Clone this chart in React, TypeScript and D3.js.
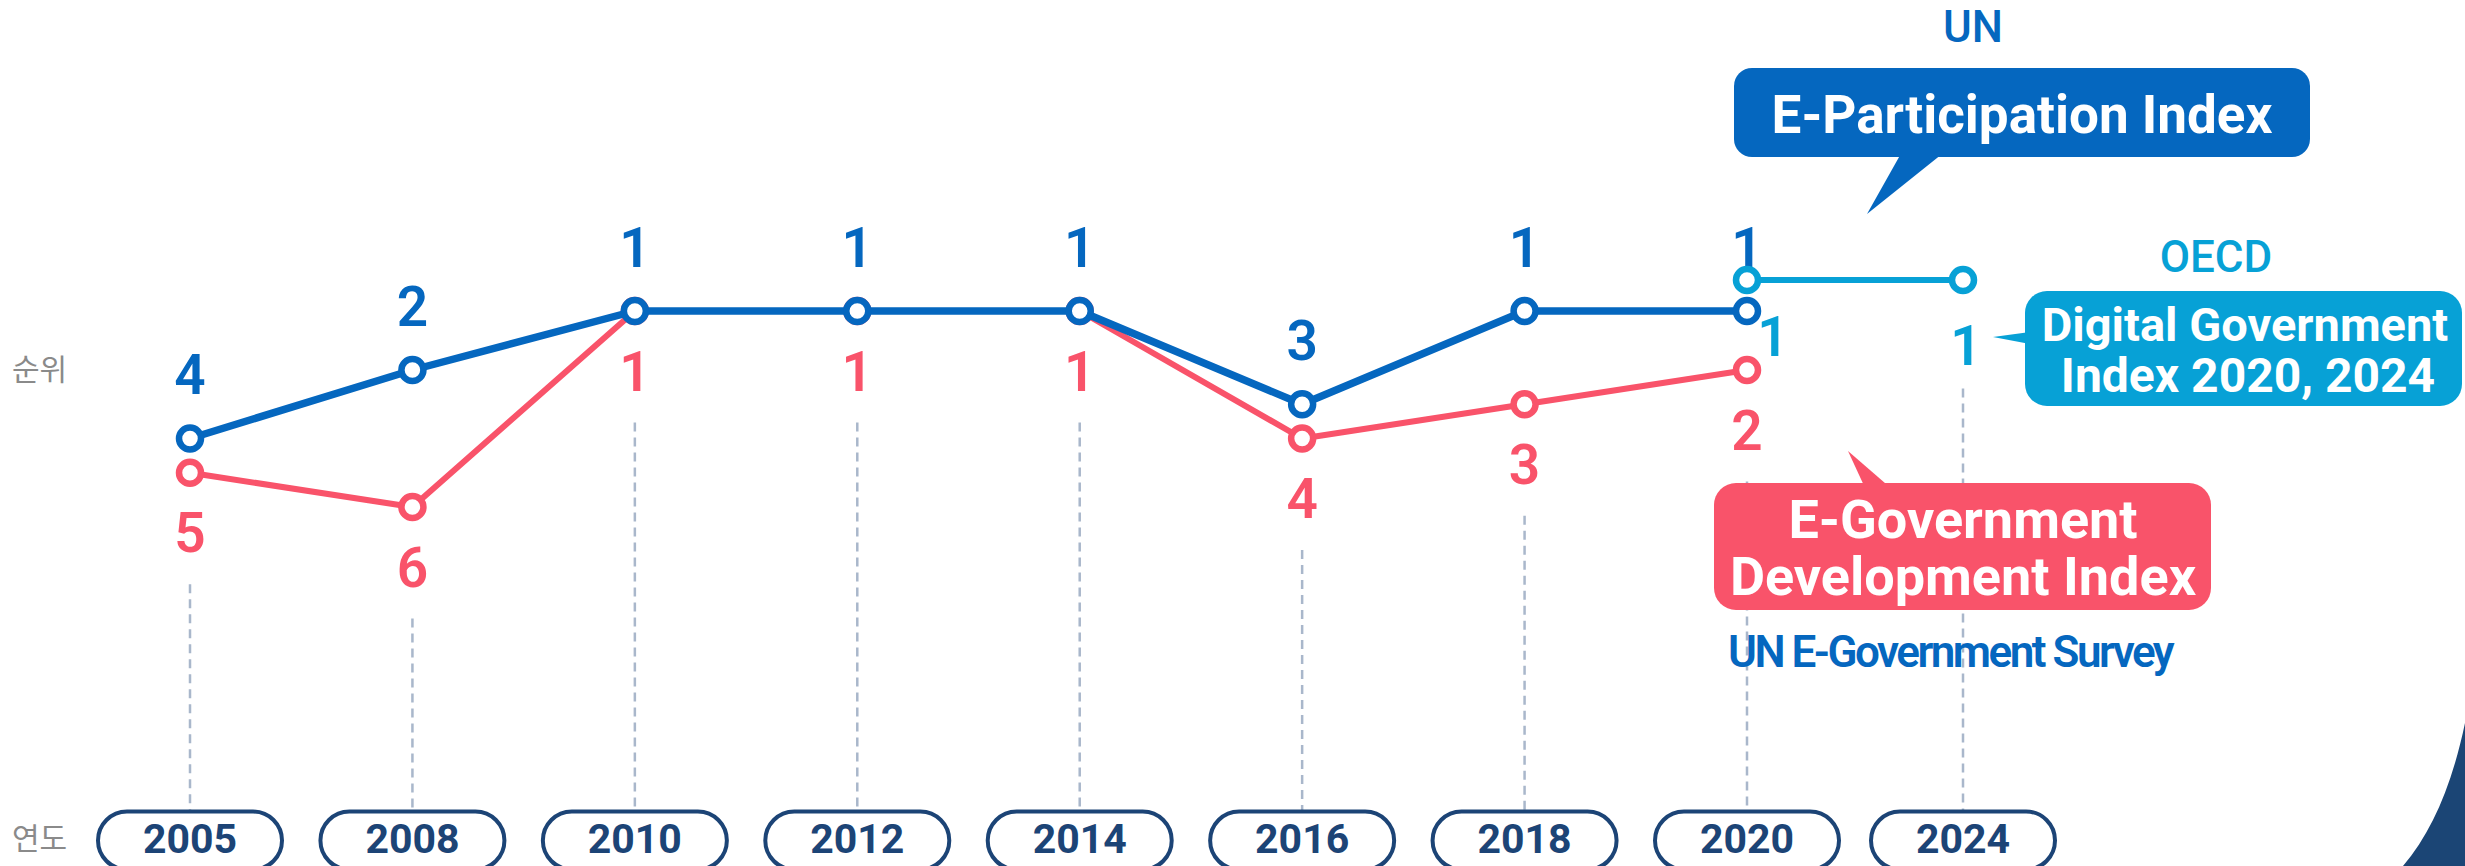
import React from 'react';
import * as d3 from 'd3';

// ---- data ----
const years = ['2005', '2008', '2010', '2012', '2014', '2016', '2018', '2020', '2024'];
const unYears = ['2005', '2008', '2010', '2012', '2014', '2016', '2018', '2020'];
const eParticipationRank = [4, 2, 1, 1, 1, 3, 1, 1];
const egdiRank = [5, 6, 1, 1, 1, 4, 3, 2];
const oecdYears = ['2020', '2024'];
const oecdDgiRank = [1, 1];

const W = 2465;
const H = 866;

const C = {
  blue: '#0567bf',
  red: '#f9536a',
  light: '#07a1d6',
  navy: '#1c4476',
  dash: '#a9b7cb',
  grey: '#8a8a8a',
};

const FONT = 'Roboto, "Noto Sans", sans-serif';
const KFONT = '"Noto Sans CJK KR", "Noto Sans", sans-serif';

export default function App() {
  const x = d3.scaleLinear().domain([0, 7, 8]).range([190, 1747, 1963]);
  const xOf = (yr: string) => x(years.indexOf(yr));
  const y = d3.scaleLinear().domain([1, 2, 6]).range([311, 370, 507]);
  const oecdOffset = -31;
  const yO = (r: number) => y(r) + oecdOffset;

  const line = d3
    .line<[number, number]>()
    .x((d) => d[0])
    .y((d) => d[1]);

  const bluePts: [number, number][] = unYears.map((yr, i) => [xOf(yr), y(eParticipationRank[i])]);
  const redPts: [number, number][] = unYears.map((yr, i) => [xOf(yr), y(egdiRank[i])]);
  const oecdPts: [number, number][] = oecdYears.map((yr, i) => [xOf(yr), yO(oecdDgiRank[i])]);

  const labelFs = 55;
  const capHalf = 19.5;
  const blueLabelDy = -64 + capHalf;
  const redLabelDy = 60 + capHalf;

  const pillTop = 811.5;

  // dashed guide start per year: just below the lowest label
  const dashStart = (yr: string) => {
    const i = unYears.indexOf(yr);
    if (i >= 0) return y(egdiRank[i]) + 60 + capHalf + 32;
    const j = oecdYears.indexOf(yr);
    return yO(oecdDgiRank[j]) + 65 + capHalf + 24;
  };

  const circle = (p: [number, number], color: string, key: string) => (
    <circle key={key} cx={p[0]} cy={p[1]} r={11} fill="#fff" stroke={color} strokeWidth={6.5} />
  );

  return (
    <svg
      width={W}
      height={H}
      viewBox={`0 0 ${W} ${H}`}
      style={{ position: 'absolute', left: 0, top: 0, background: '#fff', overflow: 'hidden' }}
    >
      {/* decoration bottom right */}
      <path d="M2465,723 C2452,785 2432,832 2403,866 L2465,866 Z" fill="#1b4575" />

      {/* dashed guides */}
      {years.map((yr) => (
        <line
          key={'d' + yr}
          x1={xOf(yr)}
          x2={xOf(yr)}
          y1={dashStart(yr)}
          y2={pillTop}
          stroke={C.dash}
          strokeWidth={2.5}
          strokeDasharray="9 6"
        />
      ))}

      {/* axis labels */}
      <text x={12} y={380} fontFamily={KFONT} fontSize={30} fill={C.grey}>
        순위
      </text>
      <text x={12} y={849} fontFamily={KFONT} fontSize={30} fill={C.grey}>
        연도
      </text>

      {/* year pills */}
      {years.map((yr) => (
        <g key={'p' + yr}>
          <rect
            x={xOf(yr) - 92}
            y={pillTop}
            width={184}
            height={58}
            rx={29}
            fill="#fff"
            stroke={C.navy}
            strokeWidth={4}
          />
          <text
            x={xOf(yr)}
            y={852.5}
            textAnchor="middle"
            fontFamily={FONT}
            fontWeight={700}
            fontSize={41}
            fill={C.navy}
          >
            {yr}
          </text>
        </g>
      ))}

      {/* red line (EGDI) */}
      <path d={line(redPts) || ''} fill="none" stroke={C.red} strokeWidth={6} strokeLinejoin="round" />
      {redPts.map((p, i) => circle(p, C.red, 'rc' + i))}

      {/* blue line (E-Participation) */}
      <path d={line(bluePts) || ''} fill="none" stroke={C.blue} strokeWidth={7.5} strokeLinejoin="round" />
      {bluePts.map((p, i) => circle(p, C.blue, 'bc' + i))}

      {/* labels */}
      {bluePts.map((p, i) => (
        <text
          key={'bl' + i}
          x={p[0]}
          y={p[1] + blueLabelDy}
          textAnchor="middle"
          fontFamily={FONT}
          fontWeight={600}
          fontSize={labelFs}
          fill={C.blue}
        >
          {eParticipationRank[i]}
        </text>
      ))}
      {redPts.map((p, i) => (
        <text
          key={'rl' + i}
          x={p[0]}
          y={p[1] + redLabelDy}
          textAnchor="middle"
          fontFamily={FONT}
          fontWeight={600}
          fontSize={labelFs}
          fill={C.red}
        >
          {egdiRank[i]}
        </text>
      ))}

      {/* OECD line */}
      <path d={line(oecdPts) || ''} fill="none" stroke={C.light} strokeWidth={6} />
      {oecdPts.map((p, i) => circle(p, C.light, 'oc' + i))}
      {oecdPts.map((p, i) => (
        <text
          key={'ol' + i}
          x={p[0] + (i === 0 ? 26 : 3)}
          y={p[1] + (i === 0 ? 56 : 65) + capHalf}
          textAnchor="middle"
          fontFamily={FONT}
          fontWeight={600}
          fontSize={labelFs}
          fill={C.light}
        >
          {oecdDgiRank[i]}
        </text>
      ))}

      {/* UN E-Participation callout */}
      <text x={1973} y={42} textAnchor="middle" fontFamily={FONT} fontWeight={500} fontSize={44} fill={C.blue}>
        UN
      </text>
      <polygon points="1903,150 1947,150 1867,214" fill={C.blue} />
      <rect x={1734} y={68} width={576} height={89} rx={18} fill={C.blue} />
      <text x={2022} y={133} textAnchor="middle" fontFamily={FONT} fontWeight={700} fontSize={53} fill="#fff">
        E-Participation Index
      </text>

      {/* OECD callout */}
      <text x={2216} y={272} textAnchor="middle" fontFamily={FONT} fontWeight={500} fontSize={44} fill={C.light}>
        OECD
      </text>
      <polygon points="2030,332 2030,344 1993,337" fill={C.light} />
      <rect x={2025} y={291} width={437} height={115} rx={22} fill={C.light} />
      <text x={2245} y={341} textAnchor="middle" fontFamily={FONT} fontWeight={700} fontSize={47} fill="#fff">
        Digital Government
      </text>
      <text x={2248} y={392} textAnchor="middle" fontFamily={FONT} fontWeight={700} fontSize={48} fill="#fff">
        Index 2020, 2024
      </text>

      {/* EGDI callout */}
      <polygon points="1866,490 1893,490 1848,451" fill={C.red} />
      <rect x={1714} y={483} width={497} height={127} rx={22} fill={C.red} />
      <text x={1963} y={538} textAnchor="middle" fontFamily={FONT} fontWeight={700} fontSize={54} fill="#fff">
        E-Government
      </text>
      <text x={1963} y={595} textAnchor="middle" fontFamily={FONT} fontWeight={700} fontSize={54} fill="#fff">
        Development Index
      </text>
      <text x={1728} y={667} fontFamily={FONT} fontWeight={600} fontSize={44} letterSpacing={-2.5} fill={C.blue}>
        UN E-Government Survey
      </text>
    </svg>
  );
}
